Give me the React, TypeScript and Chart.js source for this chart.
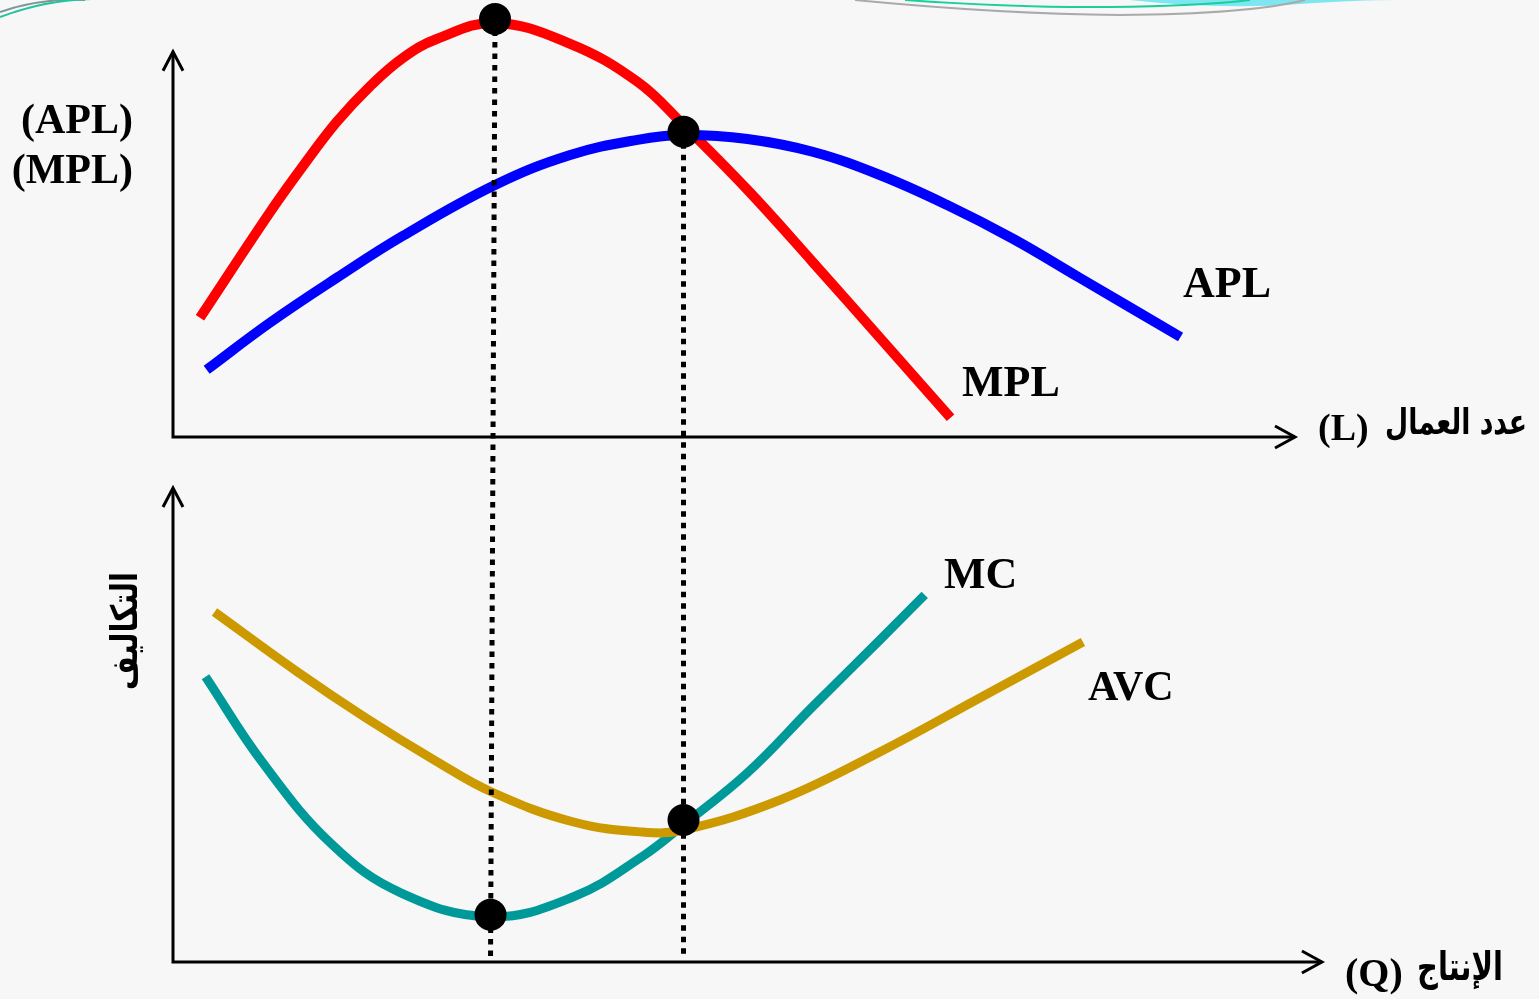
import React, { useEffect, useRef } from "react";
import { Chart, registerables } from "chart.js";

Chart.register(...registerables);

// ---- Data (abstract units: x 0..100 along the horizontal axis, y in panel units) ----
const MPL_L = [2.4, 8.6, 11.6, 14.6, 17.6, 20.5, 23.5, 28.7, 35.4, 41.4, 45.5, 51.2, 57.0, 63.0, 69.3];
const MPL_VALUES = [29.8, 56.0, 67.8, 78.8, 87.8, 94.8, 99.5, 103.5, 98.3, 88.8, 78.0, 61.8, 43.8, 24.8, 4.8];

const APL_L = [3.0, 8.6, 14.6, 20.5, 28.7, 35.4, 41.4, 45.5, 51.2, 57.0, 63.0, 69.0, 74.9, 80.8, 89.8];
const APL_VALUES = [16.8, 28.5, 39.8, 50.3, 63.0, 70.5, 74.3, 75.5, 74.5, 71.3, 65.5, 58.0, 49.5, 39.8, 25.0];

const MC_Q = [2.9, 8.0, 14.2, 20.3, 28.3, 35.7, 41.8, 45.5, 51.2, 57.0, 63.0, 67.0];
const MC_VALUES = [71.3, 49.8, 29.3, 17.3, 11.3, 16.3, 26.3, 34.3, 47.3, 63.8, 80.5, 91.8];

const AVC_Q = [3.7, 11.1, 17.2, 23.4, 28.4, 35.7, 41.8, 45.5, 54.1, 63.0, 71.9, 81.1];
const AVC_VALUES = [87.5, 72.5, 61.0, 50.3, 42.5, 35.0, 32.5, 33.0, 40.5, 52.5, 66.0, 80.0];

const TOP_DOTS_X = [28.7, 45.5];
const TOP_DOTS_Y = [104.5, 76.3];
const BOTTOM_DOTS_X = [28.3, 45.5];
const BOTTOM_DOTS_Y = [11.8, 35.5];

const SERIES_NAMES = ["MPL", "APL", "MC", "AVC"];
const TOP_Y_TITLE = ["(APL)", "(MPL)"];
const TOP_X_TITLE_AR = "عدد العمال";
const TOP_X_TITLE_SYM = "(L)";
const BOTTOM_X_TITLE_AR = "الإنتاج";
const BOTTOM_X_TITLE_SYM = "(Q)";
const BOTTOM_Y_TITLE = "التكاليف";

// axis extents in data units
const TOP_X_END = 100;
const TOP_Y_END = 96.3;
const BOTTOM_X_END = 102.4;
const BOTTOM_Y_END = 118.5;

const W = 1539;
const H = 999;
const SERIF = '"Liberation Serif", "Times New Roman", serif';
const ARABIC = '"DejaVu Sans", sans-serif';

const pts = (xs: number[], ys: number[]) => xs.map((x, i) => ({ x, y: ys[i] }));

function fitFont(ctx: CanvasRenderingContext2D, text: string, family: string, maxSize: number, target: number) {
  ctx.font = `bold ${maxSize}px ${family}`;
  const w = ctx.measureText(text).width;
  const size = Math.min(maxSize, (maxSize * target) / w);
  ctx.font = `bold ${size}px ${family}`;
}

function arabicText(ctx: CanvasRenderingContext2D, text: string, right: number, baseline: number, width: number, stretch: number) {
  ctx.save();
  ctx.direction = "rtl";
  ctx.textAlign = "right";
  ctx.textBaseline = "alphabetic";
  fitFont(ctx, text, ARABIC, 40, width);
  ctx.translate(right, baseline);
  ctx.scale(1, stretch);
  ctx.fillText(text, 0, 0);
  ctx.restore();
}

const decorPlugin = {
  id: "econDecor",
  beforeDraw(chart: any) {
    const ctx = chart.ctx as CanvasRenderingContext2D;
    ctx.save();
    ctx.fillStyle = "#f7f7f7";
    ctx.fillRect(0, 0, W, H);
    // slide template decorations
    ctx.lineWidth = 2;
    ctx.strokeStyle = "#7f9799";
    ctx.beginPath();
    ctx.moveTo(0, 12);
    ctx.quadraticCurveTo(40, -2, 85, 0);
    ctx.stroke();
    ctx.strokeStyle = "#22c49c";
    ctx.beginPath();
    ctx.moveTo(0, 17);
    ctx.quadraticCurveTo(45, 0, 92, -1);
    ctx.stroke();
    ctx.fillStyle = "#7ee6f0";
    ctx.beginPath();
    ctx.moveTo(1130, 0);
    ctx.quadraticCurveTo(1220, 10, 1300, 4);
    ctx.quadraticCurveTo(1360, 0, 1395, 0);
    ctx.closePath();
    ctx.fill();
    ctx.strokeStyle = "#aaaaaa";
    ctx.beginPath();
    ctx.moveTo(855, 0);
    ctx.quadraticCurveTo(1000, 14, 1120, 15);
    ctx.quadraticCurveTo(1250, 14, 1305, 0);
    ctx.stroke();
    ctx.strokeStyle = "#1ccf9a";
    ctx.beginPath();
    ctx.moveTo(905, 0);
    ctx.quadraticCurveTo(1020, 8, 1110, 7);
    ctx.quadraticCurveTo(1200, 6, 1250, 0);
    ctx.stroke();
    ctx.restore();
  },
  beforeDatasetsDraw(chart: any) {
    chart.$dottedDone = false;
    const ctx = chart.ctx as CanvasRenderingContext2D;
    const sx = chart.scales.x;
    const yt = chart.scales.yTop;
    const yb = chart.scales.yBot;
    ctx.save();
    ctx.strokeStyle = "#000";
    ctx.lineWidth = 3;
    ctx.lineJoin = "miter";
    ctx.lineCap = "butt";
    const panels = [
      { y: yt, xEnd: TOP_X_END, yEnd: TOP_Y_END },
      { y: yb, xEnd: BOTTOM_X_END, yEnd: BOTTOM_Y_END },
    ];
    for (const p of panels) {
      const ox = sx.getPixelForValue(0);
      const oy = p.y.getPixelForValue(0);
      const tx = sx.getPixelForValue(p.xEnd);
      const ty = p.y.getPixelForValue(p.yEnd);
      ctx.beginPath();
      ctx.moveTo(ox, ty);
      ctx.lineTo(ox, oy);
      ctx.lineTo(tx, oy);
      ctx.stroke();
      ctx.beginPath();
      ctx.moveTo(ox - 10, ty + 19);
      ctx.lineTo(ox, ty);
      ctx.lineTo(ox + 10, ty + 19);
      ctx.stroke();
      ctx.beginPath();
      ctx.moveTo(tx - 20, oy - 11);
      ctx.lineTo(tx, oy);
      ctx.lineTo(tx - 20, oy + 11);
      ctx.stroke();
    }

    // texts
    ctx.fillStyle = "#000";
    ctx.textBaseline = "alphabetic";
    ctx.direction = "ltr";
    ctx.textAlign = "right";
    ctx.font = `bold 42px ${SERIF}`;
    ctx.fillText(TOP_Y_TITLE[0], 133, 133);
    ctx.fillText(TOP_Y_TITLE[1], 133, 183);

    ctx.textAlign = "left";
    ctx.font = `bold 44px ${SERIF}`;
    ctx.fillText(SERIES_NAMES[1], 1183, 297);
    ctx.fillText(SERIES_NAMES[0], 962, 396);
    ctx.fillText(SERIES_NAMES[2], 944, 588);
    ctx.font = `bold 42px ${SERIF}`;
    ctx.fillText(SERIES_NAMES[3], 1088, 700);

    // axis titles: latin symbol on the left, arabic words on the right
    ctx.font = `bold 38px ${SERIF}`;
    ctx.fillText(TOP_X_TITLE_SYM, 1318, 440);
    ctx.font = `bold 40px ${SERIF}`;
    ctx.fillText(BOTTOM_X_TITLE_SYM, 1345, 986);

    arabicText(ctx, TOP_X_TITLE_AR, 1527, 434, 142, 1.35);
    arabicText(ctx, BOTTOM_X_TITLE_AR, 1503, 980, 86, 1.35);

    ctx.save();
    ctx.translate(137, 631);
    ctx.rotate(-Math.PI / 2);
    ctx.direction = "rtl";
    ctx.textAlign = "center";
    fitFont(ctx, BOTTOM_Y_TITLE, ARABIC, 36, 118);
    ctx.scale(1, 1.25);
    ctx.fillText(BOTTOM_Y_TITLE, 0, 0);
    ctx.restore();

    ctx.restore();
  },
  beforeDatasetDraw(chart: any, args: any) {
    const ds = chart.data.datasets[args.index];
    if (!ds.isDots || chart.$dottedDone) return;
    chart.$dottedDone = true;
    const ctx = chart.ctx as CanvasRenderingContext2D;
    const sx = chart.scales.x;
    const yt = chart.scales.yTop;
    const yb = chart.scales.yBot;
    ctx.save();
    ctx.strokeStyle = "#000";
    ctx.lineWidth = 5;
    ctx.setLineDash([5.5, 6]);
    ctx.lineCap = "butt";
    for (let i = 0; i < TOP_DOTS_X.length; i++) {
      ctx.beginPath();
      ctx.moveTo(sx.getPixelForValue(TOP_DOTS_X[i]), yt.getPixelForValue(TOP_DOTS_Y[i]));
      ctx.lineTo(sx.getPixelForValue(BOTTOM_DOTS_X[i]), yb.getPixelForValue(0) - 3);
      ctx.stroke();
    }
    ctx.restore();
  },
};

export default function App() {
  const ref = useRef<HTMLCanvasElement | null>(null);

  useEffect(() => {
    if (!ref.current) return;
    const curve = (label: string, xs: number[], ys: number[], color: string, axis: string, width: number) => ({
      label,
      data: pts(xs, ys),
      yAxisID: axis,
      borderColor: color,
      backgroundColor: color,
      borderWidth: width,
      pointRadius: 0,
      fill: false,
      tension: 0.4,
      borderCapStyle: "butt" as const,
      order: 1,
    });
    const dots = (label: string, xs: number[], ys: number[], axis: string) => ({
      label,
      data: pts(xs, ys),
      yAxisID: axis,
      showLine: false,
      pointRadius: 16,
      pointBorderWidth: 0,
      pointBackgroundColor: "#000",
      borderColor: "#000",
      backgroundColor: "#000",
      isDots: true,
      order: 0,
    });
    const chart = new Chart(ref.current, {
      type: "line",
      data: {
        datasets: [
          dots("topDots", TOP_DOTS_X, TOP_DOTS_Y, "yTop"),
          dots("bottomDots", BOTTOM_DOTS_X, BOTTOM_DOTS_Y, "yBot"),
          curve(SERIES_NAMES[1], APL_L, APL_VALUES, "#0000ff", "yTop", 10),
          curve(SERIES_NAMES[0], MPL_L, MPL_VALUES, "#ff0000", "yTop", 10),
          curve(SERIES_NAMES[3], AVC_Q, AVC_VALUES, "#cc9900", "yBot", 9),
          curve(SERIES_NAMES[2], MC_Q, MC_VALUES, "#009999", "yBot", 9),
        ] as any,
      },
      options: {
        animation: false,
        responsive: false,
        devicePixelRatio: 1,
        layout: { autoPadding: false, padding: { left: 173, right: 244, top: 0, bottom: 0 } },
        plugins: { legend: { display: false }, tooltip: { enabled: false } },
        events: [],
        scales: {
          x: { type: "linear", min: 0, max: 100, display: false },
          yTop: { type: "linear", axis: "y", min: -140.5, max: 109.25, display: false },
          yBot: { type: "linear", axis: "y", min: -9.25, max: 240.5, display: false },
        } as any,
      },
      plugins: [decorPlugin as any],
    });
    return () => chart.destroy();
  }, []);

  return (
    <div style={{ position: "fixed", left: 0, top: 0, width: W, height: H, background: "#f7f7f7" }}>
      <canvas ref={ref} width={W} height={H} style={{ display: "block", width: W, height: H }} />
    </div>
  );
}
